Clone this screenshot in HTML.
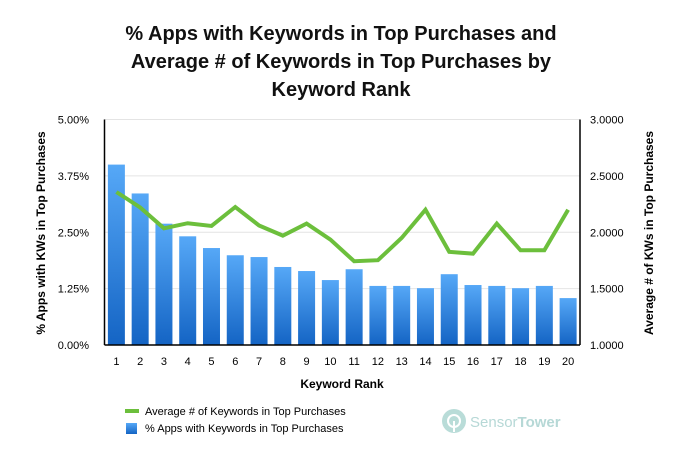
<!DOCTYPE html>
<html><head><meta charset="utf-8"><style>
body{margin:0;background:#fff;font-family:"Liberation Sans",sans-serif;}
svg text{font-family:"Liberation Sans",sans-serif;}
</style></head><body>
<svg id="chart" width="682" height="464">
<defs><linearGradient id="bg" x1="0" y1="0" x2="0" y2="1"><stop offset="0" stop-color="#56a8f7"/><stop offset="1" stop-color="#1464c4"/></linearGradient></defs>
<g font-size="20" font-weight="bold" text-anchor="middle" fill="#111">
<text x="341" y="40">% Apps with Keywords in Top Purchases and</text>
<text x="341" y="68">Average # of Keywords in Top Purchases by</text>
<text x="341" y="96">Keyword Rank</text>
</g>
<g id="grid"></g><g id="bars"></g><g id="line"></g><g id="axes"></g>
<text x="342" y="388" font-size="12" font-weight="bold" text-anchor="middle">Keyword Rank</text>
<text transform="translate(45,233) rotate(-90)" font-size="12" font-weight="bold" text-anchor="middle">% Apps with KWs in Top Purchases</text>
<text transform="translate(653,233) rotate(-90)" font-size="12" font-weight="bold" text-anchor="middle">Average # of KWs in Top Purchases</text>
<g>
<g><line x1="125" y1="411" x2="139" y2="411" stroke="#6cbf3c" stroke-width="4"/><text x="145" y="415" font-size="11">Average # of Keywords in Top Purchases</text></g>
<g><rect x="126" y="423" width="11" height="11" fill="url(#bg)"/><text x="145" y="432" font-size="11">% Apps with Keywords in Top Purchases</text></g>
</g>
<g>
<circle cx="454" cy="421" r="12" fill="#b9dcd8"/><circle cx="454" cy="421" r="6" fill="none" stroke="#fff" stroke-width="2"/><line x1="454" y1="421" x2="454" y2="432" stroke="#fff" stroke-width="2"/>
<text x="470" y="427" font-size="15" fill="#b6d8d6">Sensor<tspan font-weight="bold">Tower</tspan></text>
</g>
</svg>
<script>
const categories=["1","2","3","4","5","6","7","8","9","10","11","12","13","14","15","16","17","18","19","20"];
const pctValues=[4.00,3.36,2.69,2.41,2.15,1.99,1.95,1.73,1.64,1.44,1.68,1.31,1.31,1.26,1.57,1.33,1.31,1.26,1.31,1.04];
const avgValues=[2.357,2.22,2.035,2.08,2.056,2.224,2.06,1.97,2.077,1.935,1.743,1.752,1.95,2.20,1.826,1.81,2.077,1.84,1.84,2.20];
const leftTicks=[0,1.25,2.5,3.75,5];
const leftTickLabels=["0.00%","1.25%","2.50%","3.75%","5.00%"];
const rightTicks=[1,1.5,2,2.5,3];
const rightTickLabels=["1.0000","1.5000","2.0000","2.5000","3.0000"];
const X0=104.5,X1=580,Y0=345,Y1=119.5;
const band=(X1-X0)/categories.length;
const xc=i=>X0+band*(i+0.5);
const yL=v=>Y0-(v-0)/(5-0)*(Y0-Y1);
const yR=v=>Y0-(v-1)/(3-1)*(Y0-Y1);
const NS="http://www.w3.org/2000/svg";
function mk(t,a,p){const e=document.createElementNS(NS,t);for(const k in a)e.setAttribute(k,a[k]);p.appendChild(e);return e;}
const grid=document.getElementById('grid'),bars=document.getElementById('bars'),line=document.getElementById('line'),axes=document.getElementById('axes');
leftTicks.forEach((v,i)=>{
 const g=mk('line',{x1:X0,x2:X1,y1:yL(v),y2:yL(v),stroke:'#e4e4e4','stroke-width':1},grid);
 
 
 const t=mk('text',{x:89,y:yL(v)+4,'font-size':11,'text-anchor':'end'},axes);t.textContent=leftTickLabels[i];
 
 
});
rightTicks.forEach((v,i)=>{
 const t=mk('text',{x:590,y:yR(v)+4,'font-size':11},axes);t.textContent=rightTickLabels[i];
 
 
});
categories.forEach((c,i)=>{
 const r=mk('rect',{x:xc(i)-8.5,y:yL(pctValues[i]),width:17,height:Y0-yL(pctValues[i]),fill:'url(#bg)'},bars);
 
 
 const t=mk('text',{x:xc(i),y:365,'font-size':11,'text-anchor':'middle'},axes);t.textContent=c;
 
 
});
const p=mk('polyline',{points:avgValues.map((v,i)=>xc(i)+','+yR(v)).join(' '),fill:'none',stroke:'#6cbf3c','stroke-width':4,'stroke-linejoin':'miter'},line);


const la=mk('line',{x1:X0,x2:X0,y1:Y1,y2:Y0,stroke:'#000','stroke-width':1.5},axes);


const ra=mk('line',{x1:X1,x2:X1,y1:Y1,y2:Y0,stroke:'#000','stroke-width':1.5},axes);


const xa=mk('line',{x1:X0,x2:X1,y1:Y0,y2:Y0,stroke:'#000','stroke-width':1.5},axes);


</script>
</body></html>
